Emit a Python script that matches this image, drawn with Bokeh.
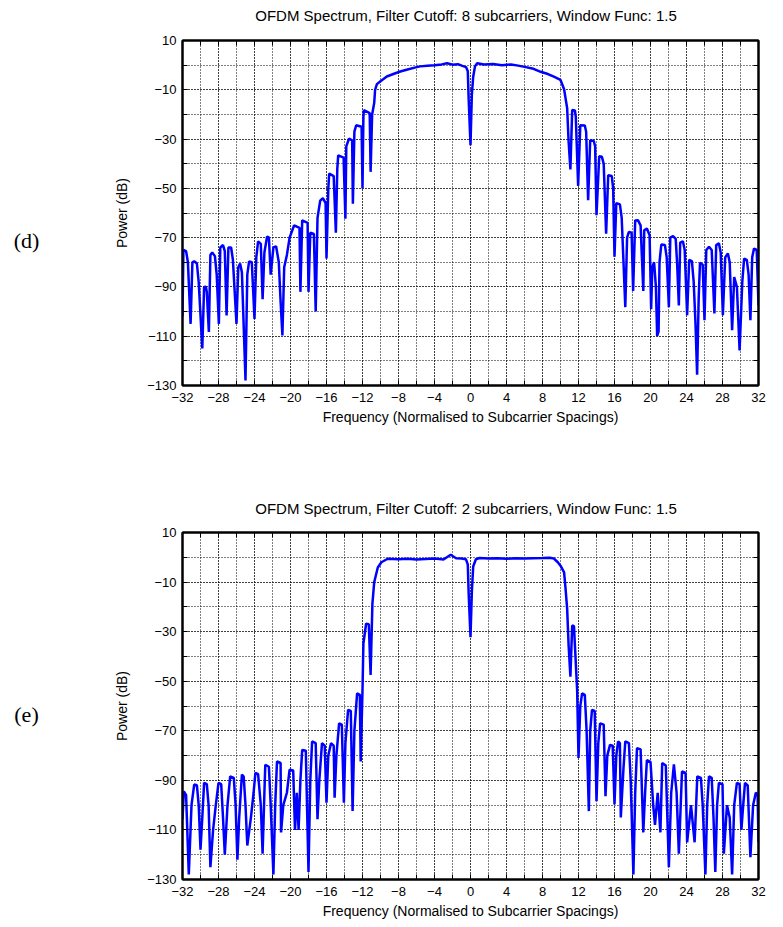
from bokeh.plotting import figure
from bokeh.models import Range1d, FixedTicker, LinearAxis
from bokeh.core.properties import value
from bokeh.layouts import column, row
from bokeh.embed import file_html
from bokeh.resources import INLINE

# ---------------- data ----------------
title_d = "OFDM Spectrum, Filter Cutoff: 8 subcarriers, Window Func: 1.5"
title_e = "OFDM Spectrum, Filter Cutoff: 2 subcarriers, Window Func: 1.5"
x_label = "Frequency (Normalised to Subcarrier Spacings)"
y_label = "Power (dB)"
tag_d = "(d)"
tag_e = "(e)"

freq_d = [
    -32.0, -31.9, -31.6, -31.4, -31.1,
    -30.9, -30.7, -30.4, -30.2, -29.8,
    -29.6, -29.4, -29.3, -29.07,
    -28.9, -28.7, -28.4, -28.2, -27.96,
    -27.8, -27.5, -27.3, -27.1,
    -26.9, -26.6, -26.4, -26.0,
    -25.8, -25.6, -25.4, -25.0,
    -24.8, -24.6, -24.3, -24.0,
    -23.8, -23.6, -23.3, -23.1,
    -22.9, -22.6, -22.4, -22.2,
    -21.9, -21.6, -21.3, -21.1, -20.9,
    -20.7, -20.4, -20.1, -19.9, -19.6, -19.0, -18.9,
    -18.7, -18.4, -18.1, -18.0,
    -17.8, -17.4, -17.2,
    -17.0, -16.7, -16.4, -16.1, -16.0,
    -15.8, -15.7, -15.2, -14.96,
    -14.8, -14.7, -14.1, -13.9,
    -13.8, -13.5, -13.15, -13.07,
    -12.9, -12.7, -12.1, -12.0,
    -11.9, -11.85, -11.2, -11.1,
    -10.93, -10.7, -10.6, -10.4, -10.0,
    -9.3, -8.5, -7.8, -7.0, -6.2, -5.6, -4.8, -4.0, -3.2, -2.6, -2.0,
    -1.4, -0.9, -0.5, -0.3, -0.2, 0.0, 0.15, 0.3, 0.5, 0.74,
    1.5, 2.5, 3.5, 4.5, 5.3, 6.0, 7.0, 7.8, 8.6, 9.26, 10.0, 10.4, 10.74, 10.9, 11.1,
    11.3, 11.6, 11.7, 11.96,
    12.2, 12.7, 12.85, 13.07,
    13.3, 13.7, 13.85, 14.0,
    14.3, 14.6, 14.8, 15.07,
    15.3, 15.7, 15.85, 16.0,
    16.2, 16.6, 16.8, 17.0, 17.2,
    17.4, 17.6, 17.9, 18.07,
    18.3, 18.6, 18.9, 19.2,
    19.3, 19.6, 19.9, 20.07,
    20.2, 20.4, 20.6, 20.74, 20.9,
    21.0, 21.2, 21.6, 21.8, 22.04,
    22.2, 22.5, 22.8, 22.95, 23.15,
    23.3, 23.6, 23.8, 24.07,
    24.3, 24.6, 24.8, 25.0, 25.18,
    25.35, 25.5, 25.8, 26.0,
    26.2, 26.5, 26.8, 27.1,
    27.3, 27.6, 27.8, 28.04,
    28.3, 28.6, 28.8, 29.07,
    29.3, 29.6, 29.9,
    30.2, 30.4, 30.7, 30.9, 31.1,
    31.3, 31.5, 31.8, 32.0,
]
power_d = [
    -102, -75, -75.5, -80, -105,
    -80, -79.6, -80.5, -88, -115,
    -90, -89.9, -92, -108.3,
    -77, -76, -77.5, -85, -105,
    -74, -73, -75.5, -101.6,
    -74, -74, -79, -105,
    -82, -80.5, -84, -128,
    -85, -79.6, -80, -103,
    -78, -71.5, -72.5, -95,
    -76, -69.5, -70, -85,
    -74, -73.5, -80, -96, -109.7,
    -82, -77, -70, -68, -65, -66, -92,
    -63, -63.5, -64, -92,
    -68, -68.5, -100,
    -62, -55, -54, -56, -78.5,
    -50, -44, -45, -68,
    -42, -36.6, -37.5, -62.3,
    -33, -29.8, -30.5, -56.2,
    -27, -24.4, -25, -50,
    -21, -18.3, -19.5, -43.3,
    -20, -15.4, -10, -7.7, -6.5,
    -4.6, -3.5, -2.6, -1.8, -1.0, -0.5, -0.2, 0.0, 0.3, 0.8, 0.2,
    0.4, -0.3, -0.8, -2.5, -14, -32.5, -12, -4.7, -0.5, 0.8,
    0.3, 0.5, 0.0, 0.3, -0.2, -0.7, -1.5, -2.7, -3.6, -4.7, -6.0, -9.8, -17.5, -31, -42.3,
    -18.2, -18.4, -21, -49,
    -24.4, -24.5, -27, -54.8,
    -30.5, -30.8, -33, -60.9,
    -37, -37.2, -40, -68.4,
    -44.7, -45, -50, -77.7,
    -56, -56.5, -62, -80, -98.2,
    -70, -67.7, -68, -91.6,
    -63, -62.9, -65, -91.6,
    -67, -66.3, -69, -99,
    -82, -80, -90, -109.9, -108,
    -80, -72.8, -73, -78, -98.2,
    -70, -69.4, -70.5, -80, -97.5,
    -72, -71.5, -75, -101.5,
    -79, -79.5, -88, -105, -125.6,
    -95, -80.2, -81, -103.5,
    -75, -73.7, -75, -100.8,
    -73, -72.3, -76, -101.5,
    -78, -76.4, -80, -107.6,
    -86, -90, -115.8,
    -88, -78.5, -79, -85, -103.5,
    -78, -74.4, -75, -97.5,
]

freq_e = [
    -32.0, -31.85, -31.6, -31.3,
    -31.0, -30.7, -30.4, -30.2, -30.0,
    -29.8, -29.6, -29.3, -29.1, -28.9,
    -28.6, -28.3, -28.0, -27.7, -27.5, -27.3,
    -27.0, -26.7, -26.3, -26.1, -25.9,
    -25.7, -25.4, -25.2, -25.0, -24.8,
    -24.4, -24.1, -23.9, -23.6, -23.3, -23.1,
    -22.9, -22.8, -22.4, -22.2, -21.9,
    -21.7, -21.5, -21.1, -21.05,
    -20.8, -20.4, -20.1, -19.7, -19.5, -19.3, -19.1,
    -18.9, -18.7, -18.3, -18.0,
    -17.8, -17.6, -17.2, -17.0,
    -16.8, -16.5, -16.2, -16.0,
    -15.8, -15.5, -15.2, -15.1,
    -14.9, -14.6, -14.3, -14.07,
    -13.9, -13.6, -13.3, -13.1,
    -12.9, -12.6, -12.3, -12.2,
    -12.0, -11.9, -11.6, -11.3, -11.1,
    -10.9, -10.7, -10.3, -9.9, -9.2,
    -8.0, -7.0, -6.0, -5.0, -4.0, -3.0, -2.2, -1.6, -1.0, -0.5,
    -0.3, -0.2, 0.0, 0.15, 0.3, 0.6,
    1.0, 2.0, 3.0, 4.0, 5.0, 6.0, 7.0, 8.0, 8.8, 9.26, 9.7, 10.0,
    10.4, 10.55, 10.74, 10.9, 11.1,
    11.3, 11.5, 11.6, 11.85, 12.0,
    12.2, 12.4, 12.7, 12.9, 13.15,
    13.3, 13.5, 13.8, 14.0,
    14.2, 14.4, 14.8, 15.0,
    15.2, 15.5, 15.8, 16.0,
    16.2, 16.4, 16.6, 16.7,
    17.0, 17.2, 17.6, 17.8, 18.1,
    18.3, 18.5, 18.9, 19.2,
    19.4, 19.6, 20.0, 20.3, 20.5,
    20.8, 21.1, 21.3, 21.7, 22.04,
    22.3, 22.6, 22.9, 23.15,
    23.5, 23.9, 24.07,
    24.5, 24.9, 25.2, 25.6, 25.8, 26.1,
    26.3, 26.5, 26.8, 27.0, 27.2,
    27.4, 27.6, 28.0, 28.15,
    28.5, 28.8, 29.07,
    29.3, 29.6, 29.9, 30.1,
    30.3, 30.5, 30.8, 31.1,
    31.4, 31.7, 31.9, 32.0,
]
power_e = [
    -105.7, -94.4, -96, -128,
    -100, -91.7, -92, -100, -118,
    -105, -91, -91.5, -100, -125,
    -110, -100, -91, -91.5, -105, -120,
    -100, -88.4, -89, -100, -122,
    -105, -87.7, -88.5, -100, -116.3,
    -105, -95, -87, -87.5, -100, -119.6,
    -95, -83.7, -84.5, -100, -128,
    -100, -82.4, -83, -111,
    -100, -95, -85.7, -86, -110, -95, -110,
    -90, -77.7, -78, -127,
    -90, -74.3, -75, -105.7,
    -90, -75, -76, -99,
    -80, -75, -76, -97,
    -80, -67, -67.5, -99,
    -75, -61.6, -62, -102.4,
    -70, -54.9, -55.5, -82.4,
    -53.6, -34.8, -26.8, -27, -47.5,
    -18.8, -10.1, -4.1, -2.0, -0.6,
    -0.8, -0.6, -0.9, -0.7, -0.5, -0.9, 1.0, -0.4, -0.5, -0.8,
    -3.0, -15, -32.2, -14, -3.7, -0.8,
    -0.3, -0.5, -0.4, -0.6, -0.4, -0.5, -0.4, -0.3, -0.2, -0.5, -2.0, -3.4,
    -6.1, -12.1, -20.8, -35.5, -48.2,
    -27.5, -27.8, -35.5, -53.6, -81,
    -60, -54.9, -55.5, -70, -102.4,
    -70, -61.6, -62, -98.4,
    -75, -67, -67.5, -96.4,
    -80, -75.7, -76, -99.7,
    -80, -74.3, -75, -105,
    -85, -74.3, -75, -90, -128,
    -95, -77, -77.5, -111,
    -95, -81.8, -82.5, -100, -108,
    -95, -111, -83, -84, -125,
    -95, -83.5, -95, -119.6,
    -86.4, -87, -115,
    -100, -115, -88.4, -89, -100, -128,
    -100, -88.4, -89, -105, -127,
    -100, -91, -91.5, -119.6,
    -100, -105, -128,
    -100, -91, -91.5, -110,
    -100, -91, -92, -121,
    -100, -95, -95.5, -115,
]

x_major = list(range(-32, 33, 4))       # labelled ticks
x_minor = list(range(-32, 33, 2))       # every grid line
y_major = list(range(-130, 11, 20))     # labelled ticks
y_minor = list(range(-130, 11, 10))     # every grid line

FONT = "Liberation Sans"
TAG_W = 60
W = 783


def make_title(text, height, cy):
    f = figure(width=W, height=height,
               x_range=Range1d(0, W), y_range=Range1d(0, height),
               x_axis_type=None, y_axis_type=None,
               min_border=0, output_backend="svg", toolbar_location=None)
    f.outline_line_color = None
    f.background_fill_color = "white"
    f.border_fill_color = "white"
    f.grid.visible = False
    f.text(x=[465.5], y=[height - cy], text=[text], text_align="center",
           text_baseline="middle", text_font=value(FONT),
           text_font_size="15px", text_color="black")
    return f


def make_tag(tag, yr, top, frame_h, bottom, tag_level):
    # shares the panel's vertical scale, so the tag sits at a known height
    f = figure(frame_width=TAG_W, frame_height=frame_h,
               min_border_left=0, min_border_right=0,
               min_border_top=top, min_border_bottom=bottom,
               x_range=Range1d(0, TAG_W), y_range=yr,
               x_axis_type=None, y_axis_type=None,
               output_backend="svg", toolbar_location=None)
    f.outline_line_color = None
    f.background_fill_color = "white"
    f.border_fill_color = "white"
    f.grid.visible = False
    f.text(x=[26], y=[tag_level], text=[tag], text_align="center",
           text_baseline="middle", text_font=value("Liberation Serif"),
           text_font_size="22px", text_color="black")
    return f


def make_panel(freq, power, top, frame_h, bottom):
    p = figure(
        x_range=Range1d(-32, 32), y_range=Range1d(-130, 10),
        frame_width=576, frame_height=frame_h,
        min_border_left=182 - TAG_W, min_border_right=25,
        min_border_top=top, min_border_bottom=bottom,
        output_backend="svg", toolbar_location=None,
        x_axis_label=x_label, y_axis_label=y_label,
    )
    p.background_fill_color = "white"
    p.border_fill_color = "white"
    p.outline_line_color = "black"
    p.outline_line_width = 2

    right = LinearAxis(ticker=FixedTicker(ticks=[], minor_ticks=y_minor))
    above = LinearAxis(ticker=FixedTicker(ticks=[], minor_ticks=x_minor))
    p.add_layout(right, "right")
    p.add_layout(above, "above")
    p.below[0].ticker = FixedTicker(ticks=x_major, minor_ticks=x_minor)
    p.left[0].ticker = FixedTicker(ticks=y_major, minor_ticks=y_minor)

    for ax in p.axis:
        ax.major_tick_in = 5
        ax.major_tick_out = 0
        ax.minor_tick_in = 5
        ax.minor_tick_out = 0
        ax.major_tick_line_color = "black"
        ax.minor_tick_line_color = "black"
        ax.major_tick_line_width = 1
        ax.minor_tick_line_width = 1
        ax.axis_line_color = "black"
        ax.axis_line_width = 2
        ax.major_label_text_font = FONT
        ax.major_label_text_color = "black"
        ax.major_label_text_font_size = "13px"
        ax.axis_label_text_font = FONT
        ax.axis_label_text_font_style = "normal"
        ax.axis_label_text_color = "black"
        ax.axis_label_text_font_size = "14px"

    for ax in (right, above):
        ax.major_label_standoff = 0

    p.below[0].major_label_standoff = 7
    p.below[0].axis_label_standoff = 4
    p.left[0].major_label_standoff = 6
    p.left[0].axis_label_standoff = 14

    p.xgrid.ticker = FixedTicker(ticks=x_major, minor_ticks=x_minor)
    p.ygrid.ticker = FixedTicker(ticks=y_major, minor_ticks=y_minor)
    for g in (p.xgrid, p.ygrid):
        g.grid_line_color = "black"
        g.grid_line_dash = "1 2"
        g.grid_line_width = 1
        g.minor_grid_line_color = "black"
        g.minor_grid_line_dash = "1 2"
        g.minor_grid_line_width = 1

    p.line(freq, power, line_color="#0000ff", line_width=2.5)
    return p


# panel (d): title strip 0-25, plot 25-463 (frame top at 40)
h1 = make_title(title_d, 25, 15)
p1 = make_panel(freq_d, power_d, 15, 345, 78)
t1 = make_tag(tag_d, p1.y_range, 15, 345, 78, -71.2)

# panel (e): title strip 463-517, plot 517-927 (frame top at 532)
h2 = make_title(title_e, 54, 508 - 463)
p2 = make_panel(freq_e, power_e, 15, 347, 48)
t2 = make_tag(tag_e, p2.y_range, 15, 347, 48, -63.4)

layout = column(h1, row(t1, p1, spacing=0), h2, row(t2, p2, spacing=0), spacing=0)
open("out.html", "w").write(file_html(layout, INLINE))
